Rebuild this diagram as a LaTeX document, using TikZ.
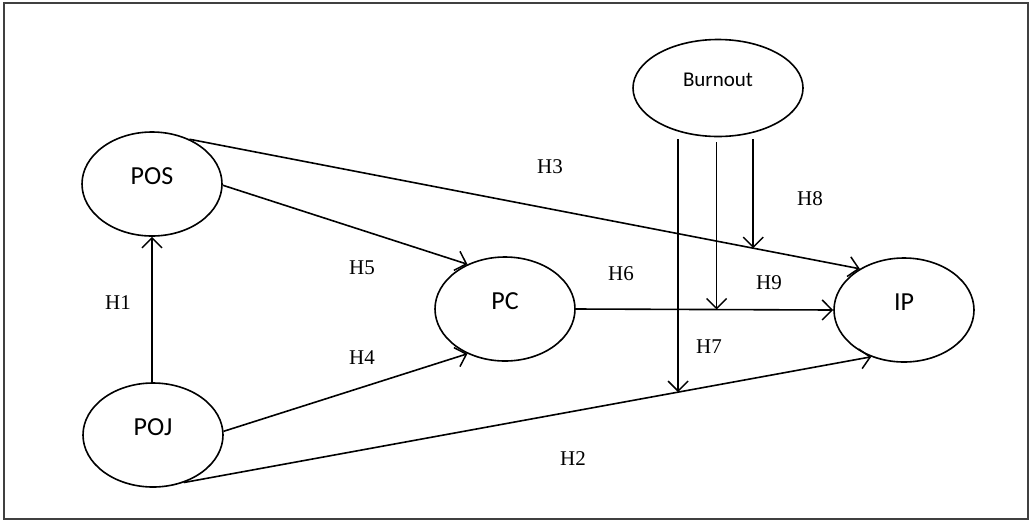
\documentclass[tikz,border=0pt]{standalone}
\usepackage{fontspec}
\setmainfont{Liberation Serif}
\newfontfamily\nodefont{Carlito}
\usetikzlibrary{shapes.geometric,arrows.meta}
\begin{document}
\begin{tikzpicture}[x=1pt,y=-1pt,
  var/.style={ellipse,draw,line width=1.6pt,minimum width=140pt,minimum height=104pt,inner sep=0pt,
    font=\nodefont\fontsize{26}{26}\selectfont,text depth=16pt},
  arr/.style={line width=1.6pt,-{Straight Barb[length=10pt,width=20pt,line width=1.5pt]}},
  hyp/.style={font=\fontsize{21}{21}\selectfont,inner sep=0pt}]
\useasboundingbox (0,0) rectangle (1032,523);
\draw[line width=1.6pt,black!75] (4,3) rectangle (1028,519);
% variables
\node[var] (POS) at (152,184) {POS};
\node[var] (POJ) at (153,435) {POJ};
\node[var] (PC) at (505,309) {PC};
\node[var] (IP) at (904,310) {IP};
\node[var,minimum width=170pt,minimum height=97pt,font=\nodefont\fontsize{21}{21}\selectfont] (Burnout) at (718,88) {Burnout};
% paths
\draw[arr] (POS.south |- POJ.north) -- (POS.south);
\draw[arr] (POS.-1) -- (PC.130);
\draw[arr] (POS.50) -- coordinate[pos=0.841] (m8) (IP.137);
\draw[arr] (POJ.3) -- (PC.230);
\draw[arr] (POJ.-57) -- coordinate[pos=0.719] (m7) (IP.235);
\draw[arr] (PC.east) -- coordinate[pos=0.547] (m9) (IP.west);
% moderation
\draw[arr] ([yshift=-2pt]Burnout.south -| m7) -- (m7);
\draw[arr] ([yshift=-5pt]Burnout.south -| m9) -- (m9);
\draw[arr] ([yshift=-2pt]Burnout.south -| m8) -- (m8);
% labels
\node[hyp] (h1) at (118,303) {H1};
\node[hyp] (h5) at (362,268) {H5};
\node[hyp] (h3) at (550,167) {H3};
\node[hyp] (h4) at (362,358) {H4};
\node[hyp] (h6) at (621,274) {H6};
\node[hyp] (h9) at (769,283) {H9};
\node[hyp] (h8) at (810,199) {H8};
\node[hyp] (h7) at (709,347) {H7};
\node[hyp] (h2) at (573,459) {H2};
\end{tikzpicture}
\end{document}
